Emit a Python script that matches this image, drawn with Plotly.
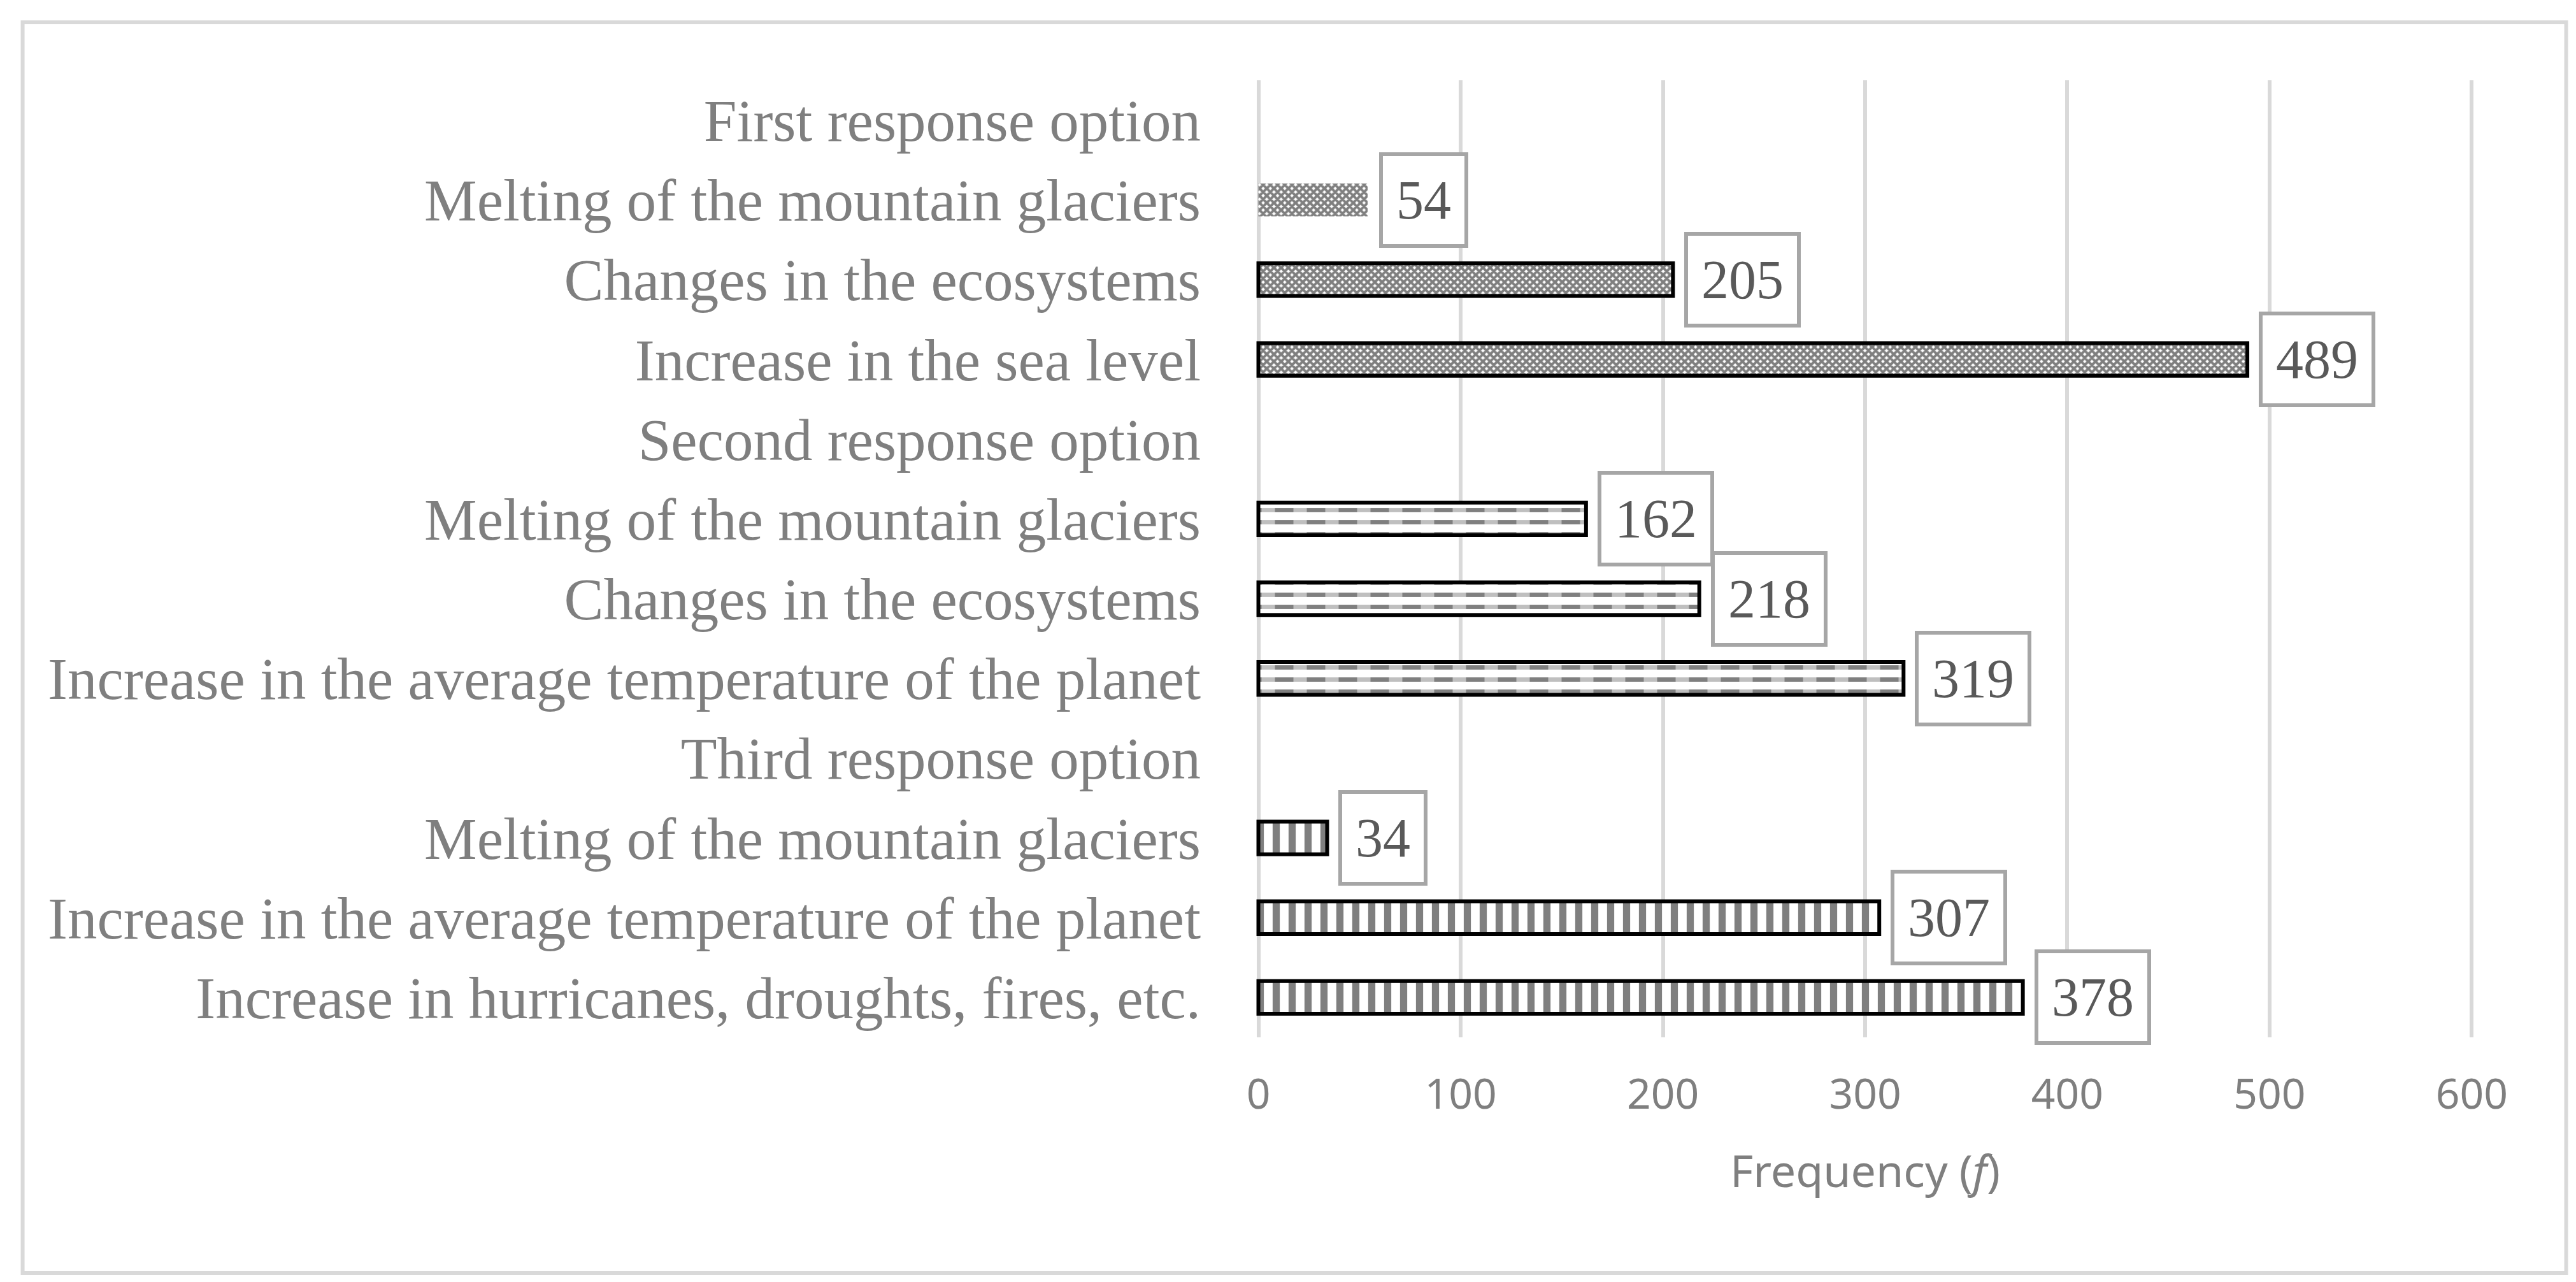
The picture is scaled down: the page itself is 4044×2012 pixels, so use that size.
import plotly.graph_objects as go

# ---------------- data ----------------
groups = ["First response option", "Second response option", "Third response option"]

first_items = ["Melting of the mountain glaciers", "Changes in the ecosystems",
               "Increase in the sea level"]
first_values = [54, 205, 489]

second_items = ["Melting of the mountain glaciers", "Changes in the ecosystems",
                "Increase in the average temperature of the planet"]
second_values = [162, 218, 319]

third_items = ["Melting of the mountain glaciers",
               "Increase in the average temperature of the planet",
               "Increase in hurricanes, droughts, fires, etc."]
third_values = [34, 307, 378]

x_ticks = [0, 100, 200, 300, 400, 500, 600]
x_title = "Frequency (<i>f</i>)"

# ---------------- build rows (header row + items per group) ----------------
labels = []
group_positions = []
for g, items in zip(groups, [first_items, second_items, third_items]):
    labels.append(g)
    pos = []
    for it in items:
        labels.append(it)
        pos.append(len(labels) - 1)
    group_positions.append(pos)

W, H = 4044, 2012
X0PX, X600PX, T, B = 1968, 3872, 118, 1620
PAD = 3  # data units of slack so gridlines at 0 and 600 are drawn
ppu = (X600PX - X0PX) / 600.0
L = X0PX - PAD * ppu
R = X600PX + PAD * ppu
BAR_W = 0.41

fig = go.Figure()

# group 1: fine checker pattern
fig.add_trace(go.Bar(
    x=first_values, y=group_positions[0], orientation="h", width=BAR_W,
    marker=dict(color="white",
                line=dict(color="black", width=[0, 6, 6]),
                pattern=dict(shape="x", fgcolor="black", bgcolor="white",
                             size=8, solidity=0.75)),
    showlegend=False, hoverinfo="x"))

# group 2: horizontal dashed lines (lines + white breaks + border)
fig.add_trace(go.Bar(
    x=second_values, y=group_positions[1], orientation="h", width=BAR_W,
    marker=dict(color="white", line=dict(color="black", width=0),
                pattern=dict(shape="-", fgcolor="black", bgcolor="white",
                             size=19, solidity=0.36)),
    showlegend=False, hoverinfo="x"))
fig.add_trace(go.Bar(
    x=second_values, y=group_positions[1], orientation="h", width=BAR_W,
    marker=dict(color="rgba(0,0,0,0)", line=dict(color="black", width=0),
                pattern=dict(shape="|", fgcolor="white", bgcolor="rgba(0,0,0,0)",
                             size=50, solidity=0.42)),
    showlegend=False, hoverinfo="skip"))
fig.add_trace(go.Bar(
    x=second_values, y=group_positions[1], orientation="h", width=BAR_W,
    marker=dict(color="rgba(0,0,0,0)", line=dict(color="black", width=6)),
    showlegend=False, hoverinfo="skip"))

# group 3: vertical lines
fig.add_trace(go.Bar(
    x=third_values, y=group_positions[2], orientation="h", width=BAR_W,
    marker=dict(color="white", line=dict(color="black", width=6),
                pattern=dict(shape="|", fgcolor="black", bgcolor="white",
                             size=25, solidity=0.45)),
    showlegend=False, hoverinfo="x"))

# value labels in boxes
annotations = []
for vals, pos in zip([first_values, second_values, third_values], group_positions):
    for v, p in zip(vals, pos):
        annotations.append(dict(
            x=v, y=p, xref="x", yref="y", text=str(v), showarrow=False,
            xanchor="left", yanchor="middle", xshift=18,
            font=dict(family="Liberation Serif", size=86, color="#595959"),
            bgcolor="white", bordercolor="#A6A6A6", borderwidth=6, borderpad=21))

pw, ph = R - L, B - T
def px_x(p):
    return (p - L) / pw
def px_y(p):
    return (B - p) / ph

fig.update_layout(
    width=W, height=H,
    margin=dict(l=L, r=W - R, t=T, b=H - B, autoexpand=False),
    paper_bgcolor="white", plot_bgcolor="white",
    barmode="overlay",
    annotations=annotations,
    shapes=[dict(type="rect", xref="paper", yref="paper",
                 x0=px_x(29), x1=px_x(4020), y0=px_y(1990), y1=px_y(27),
                 line=dict(color="#D9D9D9", width=6), fillcolor="rgba(0,0,0,0)",
                 layer="below")],
    xaxis=dict(range=[-PAD, 600 + PAD], tickvals=x_ticks, showgrid=True,
               gridcolor="#D9D9D9", gridwidth=6, zeroline=False, showline=False,
               ticks="", ticklabelstandoff=45,
               tickfont=dict(family="Noto Sans", size=66, color="#7F7F7F"),
               title=dict(text=x_title, standoff=55,
                          font=dict(family="Noto Sans", size=70, color="#7F7F7F"))),
    yaxis=dict(range=[len(labels) - 0.5, -0.5], tickvals=list(range(len(labels))),
               ticktext=labels, showgrid=False, zeroline=False, showline=False,
               ticks="", ticklabelstandoff=int(round(90 - PAD * ppu)),
               tickfont=dict(family="Liberation Serif", size=93, color="#7F7F7F")),
)

fig.write_html("out.html")
